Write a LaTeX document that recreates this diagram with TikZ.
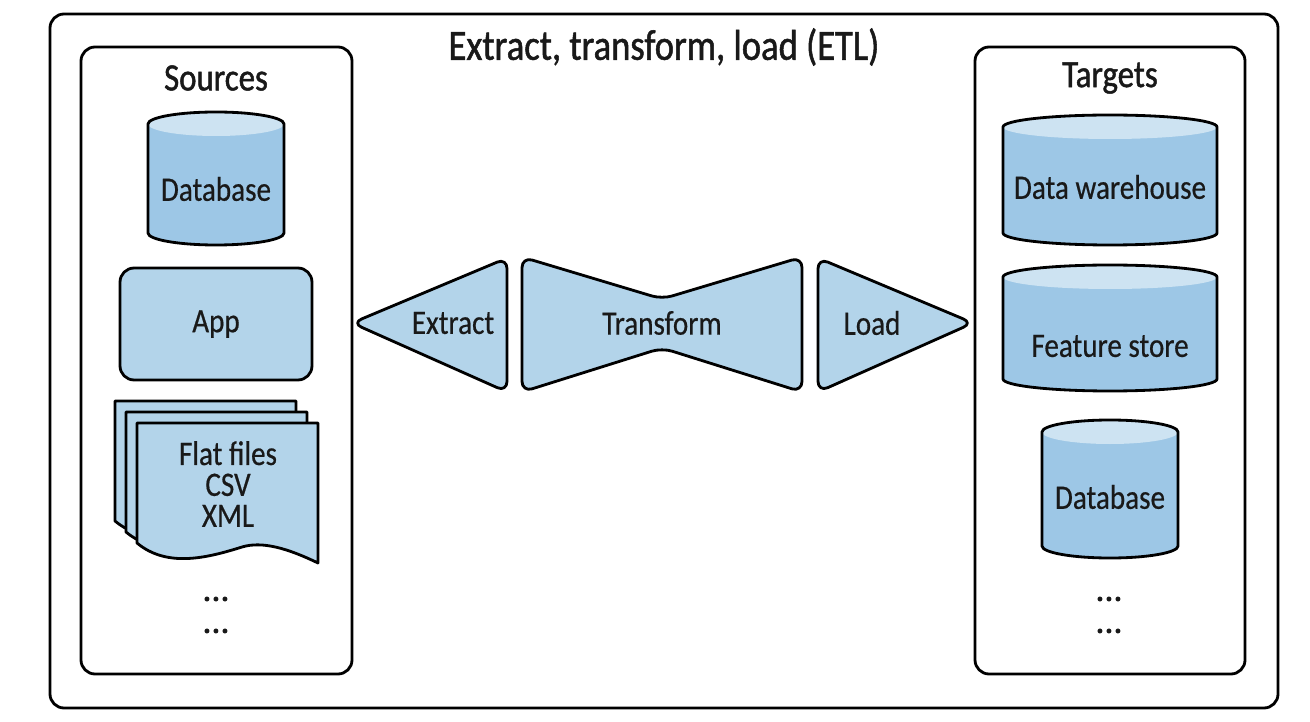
\documentclass[tikz,border=0pt]{standalone}
\usepackage{fontspec}
\setmainfont{Carlito}[FakeStretch=0.85, FakeBold=0.5]
\newfontfamily\headfamily{Carlito}[FakeStretch=0.85, FakeBold=1.2]
\newfontfamily\dotfamily{Carlito}[FakeBold=4, LetterSpace=5]

\definecolor{etlblue}{HTML}{B3D4EA}
\definecolor{cylbody}{HTML}{9DC7E6}
\definecolor{cyltop}{HTML}{CDE3F2}

\newcommand{\lblfont}{\fontsize{19.5}{17.6}\selectfont}
\newcommand{\headfont}{\headfamily\fontsize{22}{26}\selectfont}
\newcommand{\titlefont}{\headfamily\fontsize{24.5}{28}\selectfont}

% cylinder: centre x, top y, bottom y, half width
\newcommand{\drawcyl}[4]{%
  \fill[cylbody] (#1-#4,#2) -- (#1-#4,#3) arc[start angle=180, end angle=0, x radius=#4, y radius=12]
    -- (#1+#4,#2) arc[start angle=0, end angle=-180, x radius=#4, y radius=12] -- cycle;
  \fill[cyltop] (#1,#2) ellipse[x radius=#4, y radius=12];
  \draw[line width=1.6pt] (#1-#4,#2) -- (#1-#4,#3) arc[start angle=180, end angle=0, x radius=#4, y radius=12]
    -- (#1+#4,#2) arc[start angle=0, end angle=-180, x radius=#4, y radius=12] -- cycle;
}
% one sheet of the flat files stack: top left corner
\newcommand{\drawsheet}[2]{%
  \filldraw[shapefill] (#1,#2) -- (#1+181,#2) -- (#1+181,#2+140)
    .. controls (#1+150,#2+125) and (#1+125,#2+118) .. (#1+105,#2+124)
    .. controls (#1+70,#2+135) and (#1+30,#2+145) .. (#1,#2+120) -- cycle;
}

\tikzset{
  frame/.style={draw, line width=1.6pt, rounded corners=8pt},
  shapefill/.style={draw, line width=1.6pt, fill=etlblue, line join=round},
  lbl/.style={font=\lblfont, inner sep=0pt, text=black!90, align=center},
  dots/.style={font=\dotfamily\fontsize{17}{18.2}\selectfont, inner sep=0pt, text=black!90, align=center},
}

\begin{document}
\begin{tikzpicture}[x=0.02cm, y=-0.02cm]
  \useasboundingbox (0,0) rectangle (1310,722);

  % frames
  \draw[frame] (50,14) rectangle (1278,708);
  \draw[frame] (81,47) rectangle (352,674);
  \draw[frame] (975,47) rectangle (1245,674);
  \node[lbl, font=\titlefont] (title) at (664,47) {Extract, transform, load (ETL)};
  \node[lbl, font=\headfont] (sources) at (216,78) {Sources};
  \node[lbl, font=\headfont] (targets) at (1110,78) {Targets};

  % sources
  \drawcyl{216}{124}{233}{68}
  \node[lbl] (srcdb) at (216,189) {Database};
  \node[shapefill, rounded corners=8pt, minimum width=3.84cm, minimum height=2.24cm] (app) at (216,324) {};
  \node[lbl] (applbl) at (app) {App};
  \drawsheet{115}{401}
  \drawsheet{126}{412}
  \drawsheet{137}{423}
  \node[lbl] (flatfiles) at (228,484) {Flat files\\CSV\\XML};
  \node[dots] (srcdots) at (216,615) {...\\...};

  % extract, transform, load
  \draw[shapefill, rounded corners=6pt] (352,323) -- (507,258) -- (507,392) -- cycle;
  \draw[shapefill, rounded corners=6pt] (522,257) -- (662,299) -- (802,257) -- (802,392) -- (662,348) -- (522,392) -- cycle;
  \draw[shapefill, rounded corners=6pt] (973,323) -- (818,258) -- (818,392) -- cycle;
  \node[lbl] (extract) at (453,323) {Extract};
  \node[lbl] (transform) at (662,323) {Transform};
  \node[lbl] (load) at (872,323) {Load};

  % targets
  \drawcyl{1110}{127}{233}{107}
  \node[lbl] (dw) at (1110,187) {Data warehouse};
  \drawcyl{1110}{277}{379}{107}
  \node[lbl] (fstore) at (1110,346) {Feature store};
  \drawcyl{1110}{432}{546}{68}
  \node[lbl] (tgtdb) at (1110,497) {Database};
  \node[dots] (tgtdots) at (1109,615) {...\\...};
\end{tikzpicture}
\end{document}
